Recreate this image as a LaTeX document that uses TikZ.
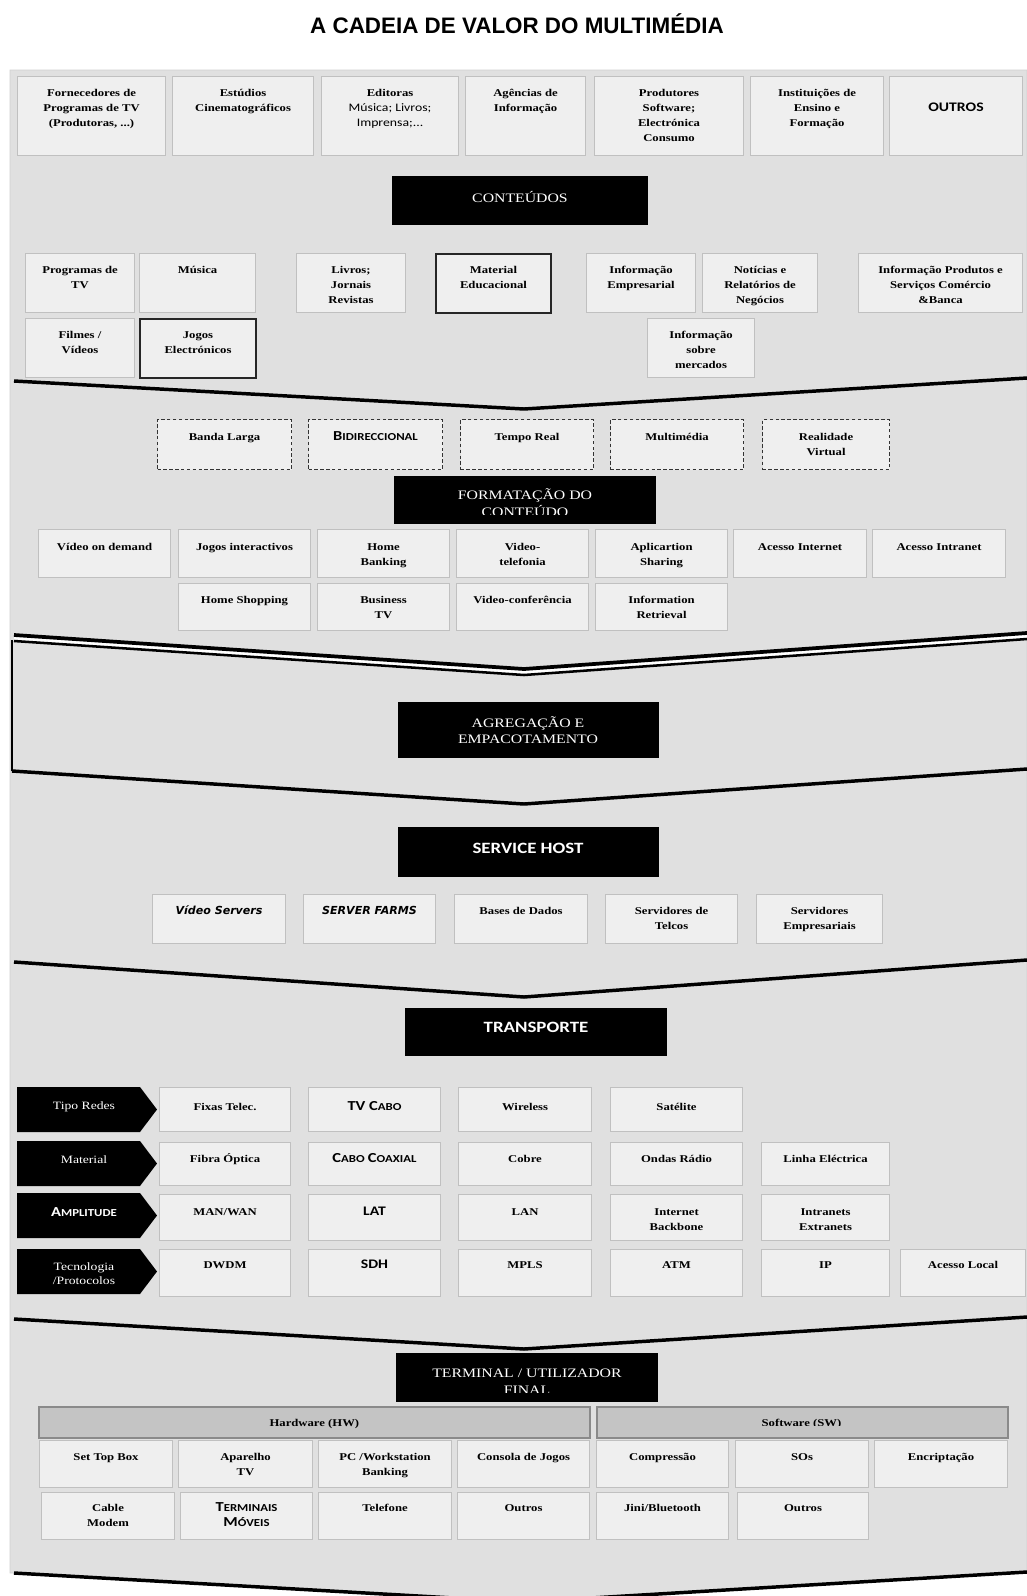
\documentclass[tikz,border=0pt]{standalone}
\usepackage{fontspec}
\setmainfont{Liberation Serif}[FakeStretch=1.22]
\newfontfamily\sansf{Carlito}[FakeStretch=1.2]
\newfontfamily\titlef{Liberation Sans}
\newfontfamily\dvs{DejaVu Sans}
\usetikzlibrary{calc}
\definecolor{bgc}{HTML}{E0E0E0}
\definecolor{boxf}{HTML}{EFEFEF}
\definecolor{boxd}{HTML}{C0C0C0}
\definecolor{barf}{HTML}{C4C4C4}
\definecolor{bard}{HTML}{8A8A8A}
\newcommand\bxfont{\fontsize{7.8}{11.25}\selectfont\bfseries}
\newcommand\fakesc[2]{{\sansf\bfseries\fontsize{10.3}{11.25}\selectfont #1{\fontsize{8}{8}\selectfont #2}}}
\newcommand\sansbig[1]{{\sansf\bfseries\fontsize{9.8}{11.25}\selectfont #1}}
\newcommand\itsans[1]{{\dvs\bfseries\itshape\fontsize{8.3}{11.25}\selectfont #1}}
\newcommand\twol[3][12.75pt]{\parbox[t]{6cm}{\centering\baselineskip=#1 #2\\#3}}
\def\toff{20.5}
\tikzset{
  box/.style={draw=boxd,fill=boxf,line width=0.8pt,inner sep=0pt},
  thk/.style={draw=black!85,line width=1.5pt},
  dsh/.style={draw=black!80,dash pattern=on 2.6pt off 1.8pt,line width=0.8pt},
  bar/.style={draw=bard,fill=barf,line width=1.3pt},
  chev/.style={line width=2.6pt,line join=miter},
  wtxt/.style={text=white,inner sep=0pt,font=\fontsize{9.7}{12.75}\selectfont},
  wsans/.style={text=white,inner sep=0pt,font=\sansf\bfseries\fontsize{11.8}{13}\selectfont},
  ltxt/.style={text=white,inner sep=0pt,font=\fontsize{8.4}{10.5}\selectfont},
}
\newcommand\bx[7][]{%
  \pgfmathsetlengthmacro\bw{(#5-#3)*0.75pt}%
  \pgfmathsetlengthmacro\bh{(#6-#4)*0.75pt}%
  \node[box,#1,anchor=north west,minimum width=\bw,minimum height=\bh] (#2) at (#3,#4) {};
  \node[anchor=base,inner sep=0pt,font=\bxfont] (#2-t) at ($(#2.north)+(0,\toff)$) {\parbox[t]{\bw}{\centering #7}};
}
\newcommand\blk[5]{%
  \pgfmathsetlengthmacro\bw{(#4-#2)*0.75pt}%
  \pgfmathsetlengthmacro\bh{(#5-#3)*0.75pt}%
  \node[fill=black,inner sep=0pt,anchor=north west,minimum width=\bw,minimum height=\bh] (#1) at (#2,#3) {};}
\begin{document}
\begin{tikzpicture}[x=0.75pt,y=-0.75pt]
\useasboundingbox (0,0) rectangle (1027,1596);
\fill[white] (0,0) rectangle (1027,1596);
% gray background
\fill[bgc,draw=black!18,line width=0.6pt] (10,70) -- (1027,70) -- (1027,1572) -- (524,1602) -- (14,1573) -- (10,1573) -- cycle;
% title
\node[anchor=base,inner sep=0pt,font=\titlef\bfseries\fontsize{16.8}{20}\selectfont] (title) at (517,33) {A CADEIA DE VALOR DO MULTIMÉDIA};

% ---------- suppliers
\def\toff{20.5}
\bx{f1}{17}{76}{165}{155}{Fornecedores de\\Programas de TV\\(Produtoras, ...)}
\bx{f2}{172}{76}{313}{155}{Estúdios\\Cinematográficos}
\bx{f3}{321}{76}{458}{155}{Editoras\\{\sansf\mdseries\fontsize{8.6}{11.25}\selectfont Música; Livros;\\Imprensa;...}}
\bx{f4}{465}{76}{585}{155}{Agências de\\Informação}
\bx{f5}{594}{76}{743}{155}{Produtores\\Software;\\Electrónica\\Consumo}
\bx{f6}{750}{76}{883}{155}{Instituições de\\Ensino e\\Formação}
\bx{f7}{889}{76}{1022}{155}{\mbox{}\\\sansbig{OUTROS}}

\blk{conte}{392}{176}{648}{225}
\node[wtxt,anchor=base] (conte-t) at (520,202) {CONTEÚDOS};

% ---------- contents
\bx{c1}{25}{253}{134}{312}{Programas de\\TV}
\bx{c2}{139}{253}{255}{312}{Música}
\bx{c3}{296}{253}{405}{312}{Livros;\\Jornais\\Revistas}
\bx[thk]{c4}{435}{253}{550}{312}{Material\\Educacional}
\bx{c5}{586}{253}{695}{312}{Informação\\Empresarial}
\bx{c6}{702}{253}{817}{312}{Notícias e\\Relatórios de\\Negócios}
\bx{c7}{858}{253}{1022}{312}{Informação Produtos e\\Serviços Comércio\\\&Banca}
\bx{c8}{25}{318}{134}{377}{Filmes /\\Vídeos}
\bx[thk]{c9}{139}{318}{255}{377}{Jogos\\Electrónicos}
\bx{c10}{647}{318}{754}{377}{Informação\\sobre\\mercados}

\draw[chev] (14,381) -- (524,409) -- (1027,378);

% ---------- formatting
\def\toff{21.5}
\bx[dsh]{d1}{157}{419}{291}{469}{Banda Larga}
\bx[dsh]{d2}{308}{419}{442}{469}{\fakesc{B}{IDIRECCIONAL}}
\bx[dsh]{d3}{460}{419}{593}{469}{Tempo Real}
\bx[dsh]{d4}{610}{419}{743}{469}{Multimédia}
\bx[dsh]{d5}{762}{419}{889}{469}{Realidade\\Virtual}

\blk{form}{394}{476}{656}{524}
\begin{scope}
\clip (394,476) rectangle (656,514.5);
\node[wtxt,anchor=base] (form-t) at (525,499) {\twol[13pt]{FORMATAÇÃO DO}{CONTEÚDO}};
\end{scope}

\def\toff{21}
\bx{s1}{38}{529}{170}{577}{Vídeo on demand}
\bx{s2}{178}{529}{310}{577}{Jogos interactivos}
\bx{s3}{317}{529}{449}{577}{Home\\Banking}
\bx{s4}{456}{529}{588}{577}{Video-\\telefonia}
\bx{s5}{595}{529}{727}{577}{Aplicartion\\Sharing}
\bx{s6}{733}{529}{866}{577}{Acesso Internet}
\bx{s7}{872}{529}{1005}{577}{Acesso Intranet}
\def\toff{20.5}
\bx{s8}{178}{583}{310}{630}{Home Shopping}
\bx{s9}{317}{583}{449}{630}{Business\\TV}
\bx{s10}{456}{583}{588}{630}{Video-conferência}
\bx{s11}{595}{583}{727}{630}{Information\\Retrieval}

% double chevron + left side
\draw[white,line width=4.5pt] (14,638) -- (524,672) -- (1027,636);
\draw[line width=2.8pt] (14,635) -- (524,669) -- (1027,633);
\draw[line width=1.9pt] (14,641) -- (524,675) -- (1027,639);
\draw[line width=1.6pt] (12,640) -- (12,771);

% ---------- aggregation
\blk{agreg}{398}{702}{659}{758}
\node[wtxt,anchor=base] (agreg-t) at (528,727) {\twol[12pt]{AGREGAÇÃO E}{EMPACOTAMENTO}};

\draw[chev] (12,771) -- (524,804) -- (1027,769);

% ---------- service host
\blk{host}{398}{827}{659}{877}
\node[wsans,anchor=base] (host-t) at (528,853) {SERVICE HOST};

\def\toff{20.5}
\bx{h1}{152}{894}{285}{943}{\itsans{Vídeo Servers}}
\bx{h2}{303}{894}{435}{943}{\itsans{SERVER FARMS}}
\bx{h3}{454}{894}{587}{943}{Bases de Dados}
\bx{h4}{605}{894}{737}{943}{Servidores de\\Telcos}
\bx{h5}{756}{894}{882}{943}{Servidores\\Empresariais}

\draw[chev] (14,962) -- (524,997) -- (1027,960);

% ---------- transport
\blk{transp}{405}{1008}{667}{1056}
\node[wsans,anchor=base] (transp-t) at (536,1032) {TRANSPORTE};

\fill (17,1087) -- (140,1087) -- (157,1109.5) -- (140,1132) -- (17,1132) -- cycle;
\node[ltxt,anchor=base] (l1) at (84,1109) {Tipo Redes};
\fill (17,1141) -- (140,1141) -- (157,1163.5) -- (140,1186) -- (17,1186) -- cycle;
\node[ltxt,anchor=base] (l2) at (84,1163) {Material};
\fill (17,1193) -- (140,1193) -- (157,1215.5) -- (140,1238) -- (17,1238) -- cycle;
\node[ltxt,anchor=base] (l3) at (84,1216) {\fakesc{A}{MPLITUDE}};
\fill (17,1249) -- (140,1249) -- (157,1271.5) -- (140,1294) -- (17,1294) -- cycle;
\node[ltxt,anchor=base] (l4) at (84,1270) {\twol[10.5pt]{Tecnologia}{/Protocolos}};

\def\toff{23}
\bx{ta1}{159}{1087}{290}{1131}{Fixas Telec.}
\bx{ta2}{308}{1087}{440}{1131}{\fakesc{TV C}{ABO}}
\bx{ta3}{458}{1087}{591}{1131}{Wireless}
\bx{ta4}{610}{1087}{742}{1131}{Satélite}
\def\toff{20.5}
\bx{tb1}{159}{1142}{290}{1185}{Fibra Óptica}
\bx{tb2}{308}{1142}{440}{1185}{\fakesc{C}{ABO} \fakesc{C}{OAXIAL}}
\bx{tb3}{458}{1142}{591}{1185}{Cobre}
\bx{tb4}{610}{1142}{742}{1185}{Ondas Rádio}
\bx{tb5}{761}{1142}{889}{1185}{Linha Eléctrica}
\def\toff{21}
\bx{tc1}{159}{1194}{290}{1240}{MAN/WAN}
\bx{tc2}{308}{1194}{440}{1240}{\sansbig{LAT}}
\bx{tc3}{458}{1194}{591}{1240}{LAN}
\bx{tc4}{610}{1194}{742}{1240}{Internet\\Backbone}
\bx{tc5}{761}{1194}{889}{1240}{Intranets\\Extranets}
\def\toff{19.5}
\bx{td1}{159}{1249}{290}{1296}{DWDM}
\bx{td2}{308}{1249}{440}{1296}{\sansbig{SDH}}
\bx{td3}{458}{1249}{591}{1296}{MPLS}
\bx{td4}{610}{1249}{742}{1296}{ATM}
\bx{td5}{761}{1249}{889}{1296}{IP}
\bx{td6}{900}{1249}{1025}{1296}{Acesso Local}

\draw[chev] (14,1319) -- (524,1349) -- (1027,1317);

% ---------- terminal
\blk{term}{396}{1353}{658}{1402}
\begin{scope}
\clip (396,1353) rectangle (658,1392);
\node[wtxt,anchor=base] (term-t) at (527,1377) {\twol[12.75pt]{TERMINAL / UTILIZADOR}{FINAL}};
\end{scope}

\def\toff{20.5}
\bx[bar]{hw}{38}{1406}{589}{1437}{Hardware (HW)}
\bx[bar]{sw}{596}{1406}{1007}{1437}{}
\begin{scope}
\clip (596,1406) rectangle (1007,1425);
\node[anchor=base,inner sep=0pt,font=\bxfont] (sw-t) at (801.5,1426.5) {Software (SW)};
\end{scope}

\def\toff{20}
\bx{tt1}{39}{1440}{172}{1487}{Set Top Box}
\bx{tt2}{178}{1440}{312}{1487}{Aparelho\\TV}
\bx{tt3}{318}{1440}{451}{1487}{PC /Workstation\\Banking}
\bx{tt4}{457}{1440}{589}{1487}{Consola de Jogos}
\bx{tt5}{596}{1440}{728}{1487}{Compressão}
\bx{tt6}{735}{1440}{868}{1487}{SOs}
\bx{tt7}{874}{1440}{1007}{1487}{Encriptação}
\def\toff{19.5}
\bx{tu1}{41}{1492}{174}{1539}{Cable\\Modem}
\bx{tu2}{180}{1492}{312}{1539}{\fakesc{T}{ERMINAIS}\\\fakesc{M}{ÓVEIS}}
\bx{tu3}{318}{1492}{451}{1539}{Telefone}
\bx{tu4}{457}{1492}{589}{1539}{Outros}
\bx{tu5}{596}{1492}{728}{1539}{Jini/Bluetooth}
\bx{tu6}{737}{1492}{868}{1539}{Outros}

\draw[chev] (14,1573) -- (524,1602) -- (1027,1572);
\end{tikzpicture}
\end{document}
